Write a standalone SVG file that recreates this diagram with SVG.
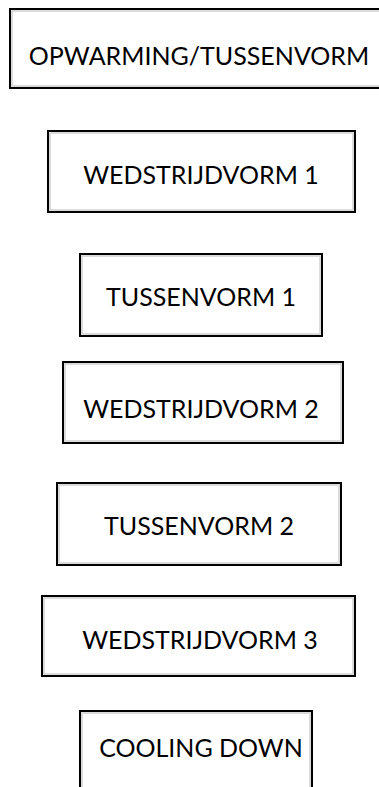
<svg xmlns="http://www.w3.org/2000/svg" width="379" height="787" viewBox="0 0 379 787">
<style>
.box{fill:#fff;stroke:#000;stroke-width:2}
.sh{fill:none;stroke:#d0d0d0;stroke-width:1.5}
.t{font-family:Lato,"Open Sans",sans-serif;font-size:25px;fill:#000;text-anchor:middle}
</style>
<rect width="379" height="787" fill="#fff"/>
<g id="n1"><rect class="box" x="10" y="9" width="380" height="79"/><rect class="sh" x="12" y="11" width="376" height="75"/><text class="t" x="199" y="65">OPWARMING/TUSSENVORM</text></g>
<g id="n2"><rect class="box" x="48" y="131" width="307" height="81"/><rect class="sh" x="50" y="133" width="303" height="77"/><text class="t" x="201" y="184">WEDSTRIJDVORM 1</text></g>
<g id="n3"><rect class="box" x="80" y="254" width="242" height="82"/><rect class="sh" x="82" y="256" width="238" height="78"/><text class="t" x="201" y="306">TUSSENVORM 1</text></g>
<g id="n4"><rect class="box" x="63" y="362" width="280" height="81"/><rect class="sh" x="65" y="364" width="276" height="77"/><text class="t" x="201" y="418">WEDSTRIJDVORM 2</text></g>
<g id="n5"><rect class="box" x="57" y="483" width="284" height="82"/><rect class="sh" x="59" y="485" width="280" height="78"/><text class="t" x="199" y="535">TUSSENVORM 2</text></g>
<g id="n6"><rect class="box" x="42" y="596" width="313" height="80"/><rect class="sh" x="44" y="598" width="309" height="76"/><text class="t" x="200" y="649">WEDSTRIJDVORM 3</text></g>
<g id="n7"><rect class="box" x="80" y="711" width="232" height="90"/><rect class="sh" x="82" y="713" width="228" height="86"/><text class="t" x="201" y="757">COOLING DOWN</text></g>
<g id="connectors"/>
</svg>
